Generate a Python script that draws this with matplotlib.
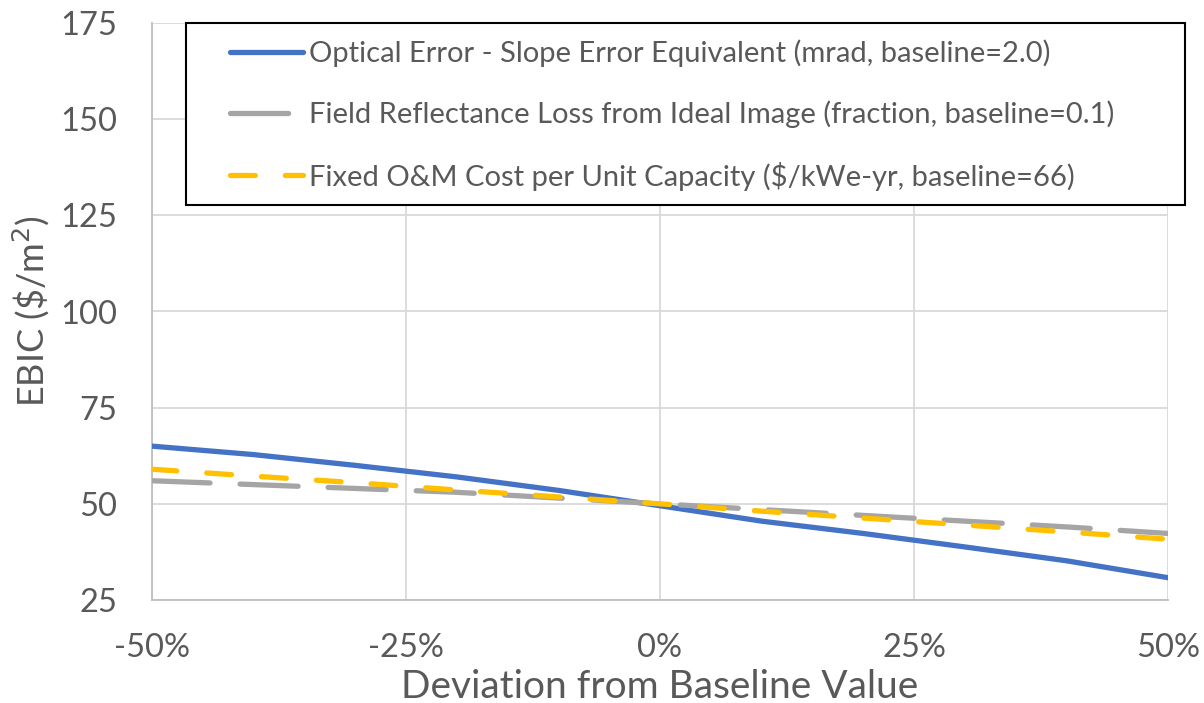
import numpy as np
import matplotlib.pyplot as plt
import matplotlib.patches as patches
from matplotlib.ticker import PercentFormatter

# deviation from the baseline value for each input
deviation = [-0.5, -0.4, -0.3, -0.2, -0.1, 0.0, 0.1, 0.2, 0.3, 0.4, 0.5]

# EBIC ($/m2) for each sensitivity case
optical_error = [65.0, 62.8, 60.0, 57.0, 53.5, 49.5, 45.5, 42.3, 38.8, 35.2, 30.8]
reflectance_loss = [56.0, 55.0, 54.0, 53.0, 51.5, 50.0, 48.5, 47.0, 45.5, 44.0, 42.3]
fixed_om_cost = [59.0, 57.2, 55.5, 53.6, 51.8, 50.0, 48.1, 46.3, 44.5, 42.7, 40.8]

labels = [
    'Optical Error - Slope Error Equivalent (mrad, baseline=2.0)',
    'Field Reflectance Loss from Ideal Image (fraction, baseline=0.1)',
    'Fixed O&M Cost per Unit Capacity (\\$/kWe-yr, baseline=66)',
]

plt.rcParams['font.family'] = ['Lato', 'DejaVu Sans']
plt.rcParams['axes.unicode_minus'] = False

W, H = 1204, 703
fig = plt.figure(figsize=(W / 100, H / 100), dpi=100)
ax = fig.add_axes([152 / W, 1 - 600 / H, (1168 - 152) / W, (600 - 23) / H])

ax.plot(deviation, optical_error, color='#4472C4', lw=3.8,
        solid_capstyle='round', label=labels[0], zorder=3)
ax.plot(deviation, reflectance_loss, color='#A5A5A5', lw=3.8,
        dashes=(11, 5.7), dash_capstyle='round', label=labels[1], zorder=3)
ax.plot(deviation, fixed_om_cost, color='#FFC000', lw=3.8,
        dashes=(4.7, 5.7), dash_capstyle='round', label=labels[2], zorder=4)

ax.set_xlim(-0.5, 0.5)
ax.set_ylim(25, 175)
ax.set_xticks([-0.5, -0.25, 0, 0.25, 0.5])
ax.set_yticks([25, 50, 75, 100, 125, 150, 175])
ax.xaxis.set_major_formatter(PercentFormatter(1.0, decimals=0))

ax.grid(True, color='#D9D9D9', lw=1.3, zorder=0)
ax.set_axisbelow(True)
for side in ['top', 'right']:
    ax.spines[side].set_visible(False)
for side in ['left', 'bottom']:
    ax.spines[side].set_color('#BFBFBF')
    ax.spines[side].set_linewidth(1.3)

ax.tick_params(length=0, labelsize=23.5, labelcolor='#595959')
ax.tick_params(axis='y', pad=25)
ax.tick_params(axis='x', pad=24)
ax.set_xlabel('Deviation from Baseline Value', fontsize=28, color='#595959', labelpad=4)
ax.set_ylabel('EBIC (\\$/m$^2$)', fontsize=26, color='#595959', labelpad=6)

# legend box drawn separately so the padding around the entries is free
box = patches.Rectangle((186 / W, 1 - 205 / H), (1185 - 186) / W, 182 / H,
                        transform=fig.transFigure, facecolor='white',
                        edgecolor='black', lw=1.5, zorder=2)
fig.add_artist(box)

leg = fig.legend(loc='center left', bbox_to_anchor=(230 / W, 1 - 115 / H),
                 fontsize=21, handlelength=2.5, handletextpad=0.2,
                 labelspacing=1.15, borderpad=0, borderaxespad=0,
                 frameon=False, labelcolor='#595959')
leg.set_zorder(5)

fig.savefig('out.png', dpi=100)
